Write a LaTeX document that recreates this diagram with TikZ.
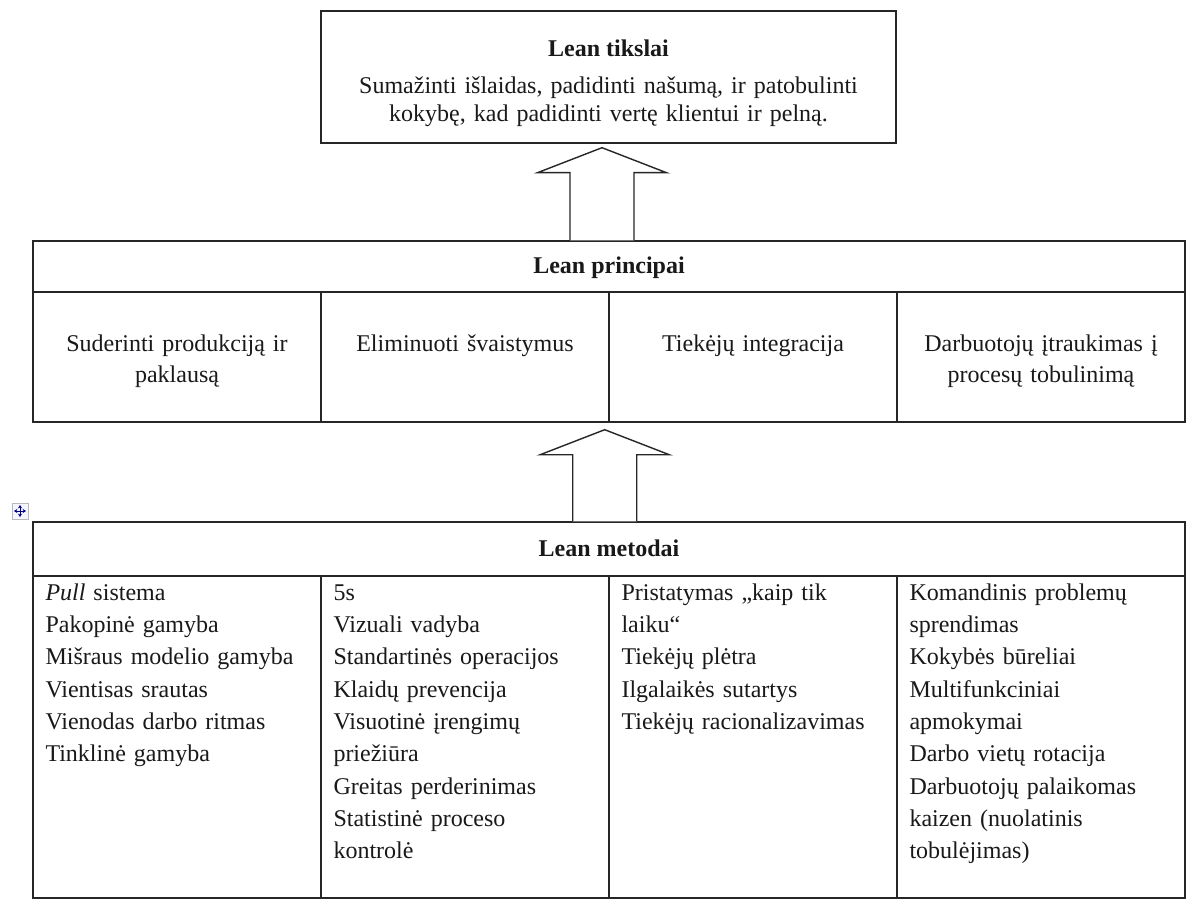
\documentclass[tikz,border=0pt]{standalone}
\usepackage{fontspec}
\setmainfont{Liberation Serif}
\usetikzlibrary{calc,arrows.meta}
\begin{document}
\begin{tikzpicture}[x=1pt,y=-1pt,
  frame/.style={draw=black!85, line width=1.4pt, inner sep=0pt},
  body/.style={inner sep=0pt, text=black!90, font=\fontsize{24}{32.3}\selectfont},
  head/.style={inner sep=0pt, text=black!90, font=\fontsize{24}{30}\selectfont\bfseries},
  cellbody/.style={body, anchor=base west, align=left, text width=272pt},
  blockarrow/.style={draw=black!85, line width=1.4pt, fill=white, line join=miter},
]
\useasboundingbox[fill=white] (0,0) rectangle (1191,904);

% ---- goals box ----
\node[frame, minimum width=575pt, minimum height=132pt] (goal) at (608.5,77) {};
\node[head, anchor=base] (goaltitle) at (608.5,57) {Lean tikslai};
\node[body, anchor=base, align=center, text width=560pt,
      font=\fontsize{24}{28}\selectfont] (goaltext) at (608.5,94)
  {Sumažinti išlaidas, padidinti našumą, ir patobulinti\\kokybę, kad padidinti vertę klientui ir pelną.};

% ---- principles table ----
\node[frame, minimum width=1152pt, minimum height=51pt] (prhead) at (609,266.5) {};
\node[head, anchor=base] (prtitle) at (609,273) {Lean principai};
\foreach \i/\x in {1/177,2/465,3/753,4/1041}
  \node[frame, minimum width=288pt, minimum height=130pt] (pr\i) at (\x,357) {};
\node[body, anchor=base, align=center, text width=272pt, font=\fontsize{24}{31}\selectfont]
  (prtext1) at (pr1.center |- 0,351) {Suderinti produkciją ir\\paklausą};
\node[body, anchor=base, align=center, text width=272pt]
  (prtext2) at (pr2.center |- 0,351) {Eliminuoti švaistymus};
\node[body, anchor=base, align=center, text width=272pt]
  (prtext3) at (pr3.center |- 0,351) {Tiekėjų integracija};
\node[body, anchor=base, align=center, text width=272pt, font=\fontsize{24}{31}\selectfont]
  (prtext4) at (pr4.center |- 0,351) {Darbuotojų įtraukimas į\\procesų tobulinimą};

% ---- methods table ----
\node[frame, minimum width=1152pt, minimum height=54pt] (mhead) at (609,549) {};
\node[head, anchor=base] (mtitle) at (609,556) {Lean metodai};
\foreach \i/\x in {1/177,2/465,3/753,4/1041}
  \node[frame, minimum width=288pt, minimum height=322pt] (m\i) at (\x,737) {};
\node[cellbody] (mtext1) at ($(m1.north west)+(13,25)$)
  {\textit{Pull} sistema\\Pakopinė gamyba\\Mišraus modelio gamyba\\Vientisas srautas\\Vienodas darbo ritmas\\Tinklinė gamyba};
\node[cellbody] (mtext2) at ($(m2.north west)+(13,25)$)
  {5s\\Vizuali vadyba\\Standartinės operacijos\\Klaidų prevencija\\Visuotinė įrengimų\\priežiūra\\Greitas perderinimas\\Statistinė proceso\\kontrolė};
\node[cellbody] (mtext3) at ($(m3.north west)+(13,25)$)
  {Pristatymas „kaip tik\\laiku“\\Tiekėjų plėtra\\Ilgalaikės sutartys\\Tiekėjų racionalizavimas};
\node[cellbody] (mtext4) at ($(m4.north west)+(13,25)$)
  {Komandinis problemų\\sprendimas\\Kokybės būreliai\\Multifunkciniai\\apmokymai\\Darbo vietų rotacija\\Darbuotojų palaikomas\\kaizen (nuolatinis\\tobulėjimas)};

% ---- block arrows (foot on the lower box, tip just under the upper box) ----
\coordinate (a1tip) at ($(goal.south)+(-6.5,4)$);
\coordinate (a1foot) at (prhead.north -| a1tip);
\draw[blockarrow] ($(a1foot)+(-32,0)$) -- ($(a1tip)+(-32,25)$) -- ($(a1tip)+(-64.5,25)$)
  -- (a1tip) -- ($(a1tip)+(64.5,25)$) -- ($(a1tip)+(32,25)$) -- ($(a1foot)+(32,0)$);

\coordinate (a2tip) at ($(pr2.south east)+(-5,7)$);
\coordinate (a2foot) at (mhead.north -| a2tip);
\draw[blockarrow] ($(a2foot)+(-32,0)$) -- ($(a2tip)+(-32,25)$) -- ($(a2tip)+(-64.5,25)$)
  -- (a2tip) -- ($(a2tip)+(64.5,25)$) -- ($(a2tip)+(32,25)$) -- ($(a2foot)+(32,0)$);

% ---- table move handle ----
\node[draw=gray!55, fill=blue!4, line width=0.7pt, minimum size=16pt, inner sep=0pt] (handle) at (20,511) {};
\draw[blue!55!black, line width=1pt, {Stealth[length=3.4pt,width=4.2pt]}-{Stealth[length=3.4pt,width=4.2pt]}]
  ($(handle.center)+(-6,0)$) -- ($(handle.center)+(6,0)$);
\draw[blue!55!black, line width=1pt, {Stealth[length=3.4pt,width=4.2pt]}-{Stealth[length=3.4pt,width=4.2pt]}]
  ($(handle.center)+(0,-6)$) -- ($(handle.center)+(0,6)$);
\end{tikzpicture}
\end{document}
